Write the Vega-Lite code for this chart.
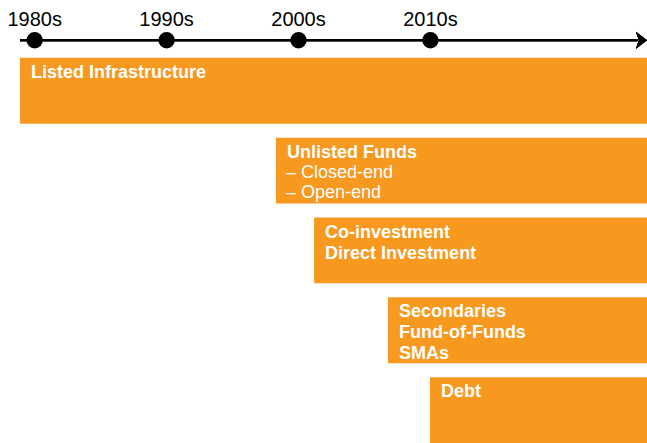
{
  "$schema": "https://vega.github.io/schema/vega-lite/v6.json",
  "width": 647,
  "height": 443,
  "autosize": {"type": "fit", "contains": "padding"},
  "padding": 0,
  "config": {"view": {"stroke": null}, "font": "Liberation Sans"},
  "datasets": {
    "bars": [
      {"label": "Listed Infrastructure", "sub": "", "start": 1978.89, "end": 2026.42, "lane": 0, "laneEnd": 0.825},
      {"label": "Unlisted Funds", "sub": "– Closed-end\n– Open-end", "start": 1998.29, "end": 2026.42, "lane": 1, "laneEnd": 1.825},
      {"label": "Co-investment\nDirect Investment", "sub": "", "start": 2001.18, "end": 2026.42, "lane": 2, "laneEnd": 2.825},
      {"label": "Secondaries\nFund-of-Funds\nSMAs", "sub": "", "start": 2006.78, "end": 2026.42, "lane": 3, "laneEnd": 3.825},
      {"label": "Debt", "sub": "", "start": 2009.97, "end": 2026.42, "lane": 4, "laneEnd": 4.825}
    ],
    "decades": [
      {"decade": "1980s", "year": 1980},
      {"decade": "1990s", "year": 1990},
      {"decade": "2000s", "year": 2000},
      {"decade": "2010s", "year": 2010}
    ]
  },
  "layer": [
    {
      "data": {"name": "bars"},
      "mark": {"type": "rect", "color": "#F7981F"},
      "encoding": {
        "x": {"field": "start", "type": "quantitative", "scale": {"domain": [1977.37, 2026.42], "nice": false, "zero": false}, "axis": null},
        "x2": {"field": "end"},
        "y": {"field": "lane", "type": "quantitative", "scale": {"domain": [-0.725, 4.8125], "reverse": true, "nice": false, "zero": false}, "axis": null},
        "y2": {"field": "laneEnd"}
      }
    },
    {
      "data": {"name": "bars"},
      "mark": {"type": "text", "color": "white", "fontWeight": "bold", "fontSize": 18, "align": "left", "baseline": "alphabetic", "dx": 11, "dy": 20, "lineBreak": "\n", "lineHeight": 21},
      "encoding": {
        "x": {"field": "start", "type": "quantitative"},
        "y": {"field": "lane", "type": "quantitative"},
        "text": {"field": "label"}
      }
    },
    {
      "data": {"name": "bars"},
      "mark": {"type": "text", "color": "white", "fontSize": 18, "align": "left", "baseline": "alphabetic", "dx": 10, "dy": 40, "lineBreak": "\n", "lineHeight": 20.5},
      "encoding": {
        "x": {"field": "start", "type": "quantitative"},
        "y": {"field": "lane", "type": "quantitative"},
        "text": {"field": "sub"}
      }
    },
    {
      "data": {"name": "decades"},
      "mark": {"type": "rule", "color": "black", "strokeWidth": 2},
      "encoding": {
        "x": {"datum": 1978.89, "type": "quantitative"},
        "x2": {"datum": 2025.7},
        "y": {"datum": -0.221, "type": "quantitative"}
      }
    },
    {
      "data": {"name": "decades"},
      "mark": {"type": "point", "filled": true, "opacity": 1, "color": "black", "size": 289, "shape": "M-0.65,-1L0.65,0L-0.65,1L-0.3,0Z"},
      "encoding": {
        "x": {"datum": 2026.0, "type": "quantitative"},
        "y": {"datum": -0.221, "type": "quantitative"}
      }
    },
    {
      "data": {"name": "decades"},
      "mark": {"type": "point", "filled": true, "opacity": 1, "color": "black", "size": 270, "shape": "circle"},
      "encoding": {
        "x": {"field": "year", "type": "quantitative"},
        "y": {"datum": -0.221, "type": "quantitative"}
      }
    },
    {
      "data": {"name": "decades"},
      "mark": {"type": "text", "color": "black", "fontSize": 20, "align": "center", "baseline": "alphabetic"},
      "encoding": {
        "x": {"field": "year", "type": "quantitative"},
        "y": {"datum": -0.4, "type": "quantitative"},
        "text": {"field": "decade"}
      }
    }
  ]
}
